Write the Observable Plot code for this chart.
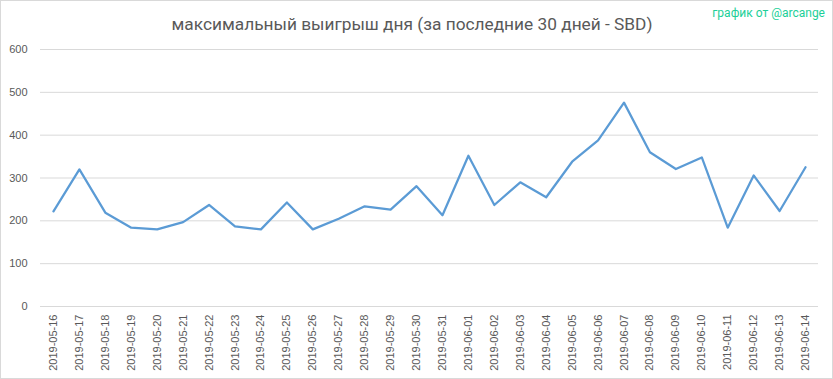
<!DOCTYPE html>
<html><head><meta charset="utf-8">
<script src="https://cdn.jsdelivr.net/npm/d3@7"></script>
<script src="https://cdn.jsdelivr.net/npm/@observablehq/plot@0.6"></script>
<style>
body{margin:0;background:#fff;}
#wrap{position:relative;width:833px;height:379px;box-sizing:border-box;border:1px solid #d9d9d9;background:#fff;overflow:hidden;}
#title{position:absolute;top:13px;left:0;width:822px;text-align:center;font-family:Roboto,"Liberation Sans",sans-serif;font-size:17.3px;color:#595959;white-space:nowrap;}
#credit{position:absolute;top:5px;right:7px;font-family:Roboto,"Liberation Sans",sans-serif;font-size:12px;color:#1ccf98;white-space:nowrap;}
#chart{position:absolute;left:0;top:0;}
</style>
</head><body>
<div id="wrap">
  <div id="chart"></div>
  <div id="title">максимальный выигрыш дня (за последние 30 дней - SBD)</div>
  <div id="credit">график от @arcange</div>
</div>
<script>
const dates = ["2019-05-16","2019-05-17","2019-05-18","2019-05-19","2019-05-20","2019-05-21","2019-05-22","2019-05-23","2019-05-24","2019-05-25","2019-05-26","2019-05-27","2019-05-28","2019-05-29","2019-05-30","2019-05-31","2019-06-01","2019-06-02","2019-06-03","2019-06-04","2019-06-05","2019-06-06","2019-06-07","2019-06-08","2019-06-09","2019-06-10","2019-06-11","2019-06-12","2019-06-13","2019-06-14"];
const values = [222,320,219,184,180,197,237,187,180,243,180,205,234,226,281,213,352,237,290,255,338,388,476,360,321,348,184,306,223,325];
const yTicks = [0,100,200,300,400,500,600];

const data = dates.map((d, i) => ({date: d, value: values[i]}));

const chart = Plot.plot({
  width: 831,
  height: 377,
  marginLeft: 39,
  marginRight: 14,
  marginTop: 48,
  marginBottom: 72,
  x: {type: "point", domain: dates, padding: 0.5, round: false, label: null},
  y: {domain: [0, 600], label: null},
  style: {fontFamily: "'Liberation Sans', Arial, sans-serif", fontSize: "11px", color: "#595959", background: "transparent"},
  marks: [
    Plot.ruleY(yTicks, {stroke: "#d9d9d9", strokeWidth: 1}),
    Plot.axisY({ticks: yTicks, tickSize: 0, tickPadding: 13, label: null, fill: "#595959"}),
    Plot.axisX({tickRotate: -90, tickSize: 0, tickPadding: 8, label: null, fill: "#595959"}),
    Plot.line(data, {x: "date", y: "value", stroke: "#5b9bd5", strokeWidth: 2.25, strokeLinejoin: "round"})
  ]
});
document.getElementById("chart").appendChild(chart);
</script>
</body></html>
